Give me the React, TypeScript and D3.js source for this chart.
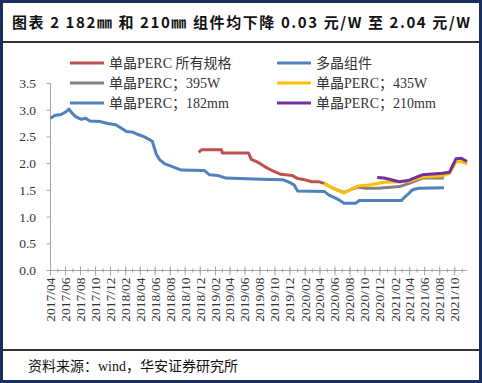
import React from "react";
import * as d3 from "d3";

const titleText = "图表 2 182㎜ 和 210㎜ 组件均下降 0.03 元/W 至 2.04 元/W";
const sourceText = "资料来源：wind，华安证券研究所";

const yTicks = [0, 0.5, 1.0, 1.5, 2.0, 2.5, 3.0, 3.5];
const xTickLabels = [
  "2017/04","2017/06","2017/08","2017/10","2017/12","2018/02","2018/04","2018/06","2018/08","2018/10","2018/12",
  "2019/02","2019/04","2019/06","2019/08","2019/10","2019/12","2020/02","2020/04","2020/06","2020/08","2020/10",
  "2020/12","2021/02","2021/04","2021/06","2021/08","2021/10",
];

type P = [string, number];

const seriesBlue: P[] = [
  ["2017-04-01", 2.85], ["2017-04-18", 2.9], ["2017-05-15", 2.92], ["2017-06-06", 2.98], ["2017-06-15", 3.02],
  ["2017-06-25", 2.96], ["2017-07-12", 2.88], ["2017-08-04", 2.83], ["2017-08-22", 2.85], ["2017-09-08", 2.8],
  ["2017-10-18", 2.79], ["2017-11-20", 2.75], ["2017-12-22", 2.73], ["2018-01-08", 2.68], ["2018-02-04", 2.6],
  ["2018-03-01", 2.59], ["2018-03-20", 2.55], ["2018-04-18", 2.5], ["2018-05-08", 2.45], ["2018-05-20", 2.42],
  ["2018-06-05", 2.18], ["2018-06-18", 2.08], ["2018-07-08", 2.0], ["2018-08-12", 1.94], ["2018-09-15", 1.88],
  ["2018-12-18", 1.87], ["2019-01-08", 1.79], ["2019-02-10", 1.78], ["2019-03-15", 1.73], ["2019-08-05", 1.71],
  ["2019-11-01", 1.7], ["2019-11-29", 1.65], ["2019-12-18", 1.6], ["2020-01-01", 1.49], ["2020-04-18", 1.48],
  ["2020-05-08", 1.41], ["2020-06-18", 1.32], ["2020-07-08", 1.26], ["2020-08-25", 1.26], ["2020-09-08", 1.31],
  ["2021-02-27", 1.31], ["2021-03-08", 1.36], ["2021-03-30", 1.45], ["2021-04-12", 1.51], ["2021-05-08", 1.54],
  ["2021-08-18", 1.55],
];

const seriesRed: P[] = [
  ["2018-11-25", 2.21], ["2018-12-06", 2.26], ["2019-02-25", 2.26], ["2019-03-01", 2.2], ["2019-06-15", 2.2],
  ["2019-06-27", 2.08], ["2019-07-22", 2.03], ["2019-08-18", 1.95], ["2019-09-15", 1.88], ["2019-10-25", 1.8],
  ["2019-12-10", 1.78], ["2020-01-01", 1.72], ["2020-01-29", 1.7], ["2020-02-27", 1.66], ["2020-03-29", 1.66],
  ["2020-04-18", 1.63],
];

const seriesGray: P[] = [
  ["2020-04-18", 1.63], ["2020-05-08", 1.58], ["2020-06-03", 1.52], ["2020-07-08", 1.46], ["2020-08-06", 1.52],
  ["2020-09-02", 1.56], ["2020-10-06", 1.54], ["2020-11-25", 1.54], ["2021-02-18", 1.57], ["2021-03-30", 1.63],
  ["2021-05-22", 1.73], ["2021-08-18", 1.73],
];

const seriesYellow: P[] = [
  ["2020-04-18", 1.63], ["2020-05-08", 1.58], ["2020-06-03", 1.52], ["2020-07-08", 1.45], ["2020-08-06", 1.52],
  ["2020-09-02", 1.58], ["2020-10-18", 1.6], ["2020-11-20", 1.63], ["2020-12-18", 1.65], ["2021-02-18", 1.66],
  ["2021-03-30", 1.67], ["2021-05-22", 1.75], ["2021-08-12", 1.77], ["2021-09-10", 1.82], ["2021-10-06", 2.03],
  ["2021-10-28", 2.04], ["2021-11-20", 1.99],
];

const seriesPurple: P[] = [
  ["2020-11-20", 1.74], ["2020-12-18", 1.73], ["2021-02-18", 1.66], ["2021-03-30", 1.69], ["2021-05-22", 1.79],
  ["2021-08-12", 1.82], ["2021-09-10", 1.84], ["2021-10-06", 2.09], ["2021-10-28", 2.1], ["2021-11-20", 2.04],
];

const legendNames = [
  "单晶PERC 所有规格", "多晶组件",
  "单晶PERC；395W", "单晶PERC；435W",
  "单晶PERC；182mm", "单晶PERC；210mm",
];
const legendColors = ["#C0504D", "#4F81BD", "#808080", "#FFC000", "#4F81BD", "#7030A0"];

const W = 482, H = 383;
const parse = d3.timeParse("%Y-%m-%d");
const parseTick = d3.timeParse("%Y/%m");

export default function App() {
  const x = d3.scaleTime()
    .domain([parse("2017-04-01") as Date, parse("2021-11-20") as Date])
    .range([50.5, 467]);
  const y = d3.scaleLinear().domain([0, 3.5]).range([270.5, 83.5]);
  const line = d3.line<P>()
    .x((d) => x(parse(d[0]) as Date))
    .y((d) => y(d[1]));

  const serif = "'Liberation Serif', 'Noto Sans CJK SC', serif";
  const series: [P[], string][] = [
    [seriesBlue, "#4F81BD"],
    [seriesRed, "#C0504D"],
    [seriesGray, "#808080"],
    [seriesYellow, "#FFC000"],
    [seriesPurple, "#7030A0"],
  ];

  const monthTicks = d3.timeMonth.every(1)!.range(parse("2017-04-01") as Date, parse("2021-11-15") as Date);

  return (
    <svg width={W} height={H} style={{ position: "absolute", left: 0, top: 0, background: "#fff" }}>
      <rect x={0} y={0} width={W} height={H} fill="#fff" />
      <rect x={1.5} y={1.5} width={W - 3} height={H - 3} fill="none" stroke="#1b2f5e" strokeWidth={3} />
      <text x={12} y={28} fontFamily="'Noto Sans CJK SC', sans-serif" fontWeight="bold" fontSize={15}
        textLength={458} lengthAdjust="spacing" fill="#111">{titleText}</text>
      <line x1={3} x2={W - 3} y1={42} y2={42} stroke="#333" strokeWidth={2} />
      <line x1={3} x2={W - 3} y1={350} y2={350} stroke="#333" strokeWidth={2} />
      <text x={28} y={371} fontFamily={serif} fontSize={14} fill="#111">{sourceText}</text>

      {/* y axis */}
      <line x1={50.5} x2={50.5} y1={y(3.5)} y2={y(0)} stroke="#a6a6a6" strokeWidth={1} />
      {yTicks.map((t) => (
        <g key={t}>
          <line x1={46.5} x2={50.5} y1={y(t)} y2={y(t)} stroke="#a6a6a6" />
          <text x={36} y={y(t) + 4.5} textAnchor="end" fontFamily={serif} fontSize={13.5} fill="#333">{t.toFixed(1)}</text>
        </g>
      ))}

      {/* x axis */}
      <line x1={50.5} x2={467} y1={y(0)} y2={y(0)} stroke="#a6a6a6" strokeWidth={1} />
      {monthTicks.map((d, i) => (
        <line key={"m" + i} x1={x(d)} x2={x(d)} y1={y(0) - 2} y2={y(0) + 2} stroke="#a6a6a6" />
      ))}
      {xTickLabels.map((lab) => {
        const xx = x(parseTick(lab) as Date);
        return (
          <g key={lab}>
            <line x1={xx} x2={xx} y1={y(0) - 4} y2={y(0) + 5} stroke="#a6a6a6" />
            <text transform={`translate(${xx + 4.5},${y(0) + 7}) rotate(-90)`} textAnchor="end"
              fontFamily={serif} fontSize={13.5} fill="#333">{lab}</text>
          </g>
        );
      })}

      {/* series */}
      {series.map(([data, color], i) => (
        <path key={i} d={line(data) || ""} fill="none" stroke={color} strokeWidth={3} strokeLinejoin="round" />
      ))}

      {/* legend */}
      {legendNames.map((name, i) => {
        const col = i % 2, row = Math.floor(i / 2);
        const lx = col === 0 ? 70 : 277;
        const ly = 63 + row * 20;
        return (
          <g key={name}>
            <line x1={lx} x2={lx + 34} y1={ly} y2={ly} stroke={legendColors[i]} strokeWidth={3} />
            <text x={lx + 39} y={ly + 4.5} fontFamily={serif} fontSize={14} fill="#333">{name}</text>
          </g>
        );
      })}
    </svg>
  );
}
